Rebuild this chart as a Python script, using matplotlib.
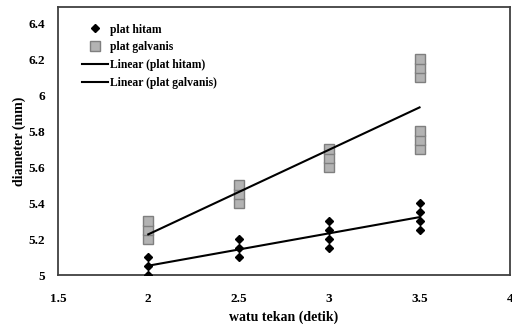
import matplotlib.pyplot as plt
import numpy as np

# press time (s) and measured diameters (mm)
hitam_x = [2, 2, 2, 2.5, 2.5, 2.5, 3, 3, 3, 3, 3.5, 3.5, 3.5, 3.5]
hitam_y = [5.0, 5.05, 5.1, 5.1, 5.15, 5.2, 5.15, 5.2, 5.25, 5.3, 5.25, 5.3, 5.35, 5.4]

galvanis_x = [2, 2, 2, 2.5, 2.5, 2.5, 3, 3, 3, 3.5, 3.5, 3.5, 3.5, 3.5, 3.5]
galvanis_y = [5.2, 5.25, 5.3, 5.4, 5.45, 5.5, 5.6, 5.65, 5.7, 5.7, 5.75, 5.8, 6.1, 6.15, 6.2]

x_ticks = [1.5, 2, 2.5, 3, 3.5, 4]
x_labels = ['1.5', '2', '2.5', '3', '3.5', '4']
y_ticks = [5, 5.2, 5.4, 5.6, 5.8, 6, 6.2, 6.4]
y_labels = ['5', '5.2', '5.4', '5.6', '5.8', '6', '6.2', '6.4']

plt.rcParams['font.family'] = ['Liberation Serif', 'DejaVu Serif']
plt.rcParams['font.weight'] = 'bold'
plt.rcParams['axes.labelweight'] = 'bold'

fig = plt.figure(figsize=(5.12, 3.24), dpi=100)
ax = fig.add_axes([0.113, 0.151, 0.883, 0.827])

ax.plot(hitam_x, hitam_y, 'D', color='black', markersize=4.5, label='plat hitam', zorder=3)
ax.plot(galvanis_x, galvanis_y, 's', color='#b3b3b3', markeredgecolor='#7f7f7f',
        markeredgewidth=1, markersize=6.5, label='plat galvanis', zorder=3)

# linear trendlines
fit_x = np.array([2, 3.5])
k1 = np.polyfit(hitam_x, hitam_y, 1)
k2 = np.polyfit(galvanis_x, galvanis_y, 1)
ax.plot(fit_x, np.polyval(k1, fit_x), color='black', lw=1.5, label='Linear (plat hitam)', zorder=4)
ax.plot(fit_x, np.polyval(k2, fit_x), color='black', lw=1.5, label='Linear (plat galvanis)', zorder=4)

ax.set_xlim(1.5, 4)
ax.set_ylim(5, 6.49)
ax.set_xticks(x_ticks)
ax.set_xticklabels(x_labels)
ax.set_yticks(y_ticks)
ax.set_yticklabels(y_labels)
ax.tick_params(length=0, labelsize=9.5)
ax.tick_params(axis='x', pad=13)
ax.tick_params(axis='y', pad=9)

for s in ax.spines.values():
    s.set_color('#404040')
    s.set_linewidth(1.3)

ax.set_xlabel('watu tekan (detik)', fontsize=10, labelpad=4)
ax.set_ylabel('diameter (mm)', fontsize=10, labelpad=2)

ax.legend(loc='upper left', bbox_to_anchor=(0.039, 0.965), frameon=False, fontsize=8.4,
          handlelength=2.2, handletextpad=0.15, labelspacing=0.5, borderaxespad=0.2)

fig.savefig('out.png')
